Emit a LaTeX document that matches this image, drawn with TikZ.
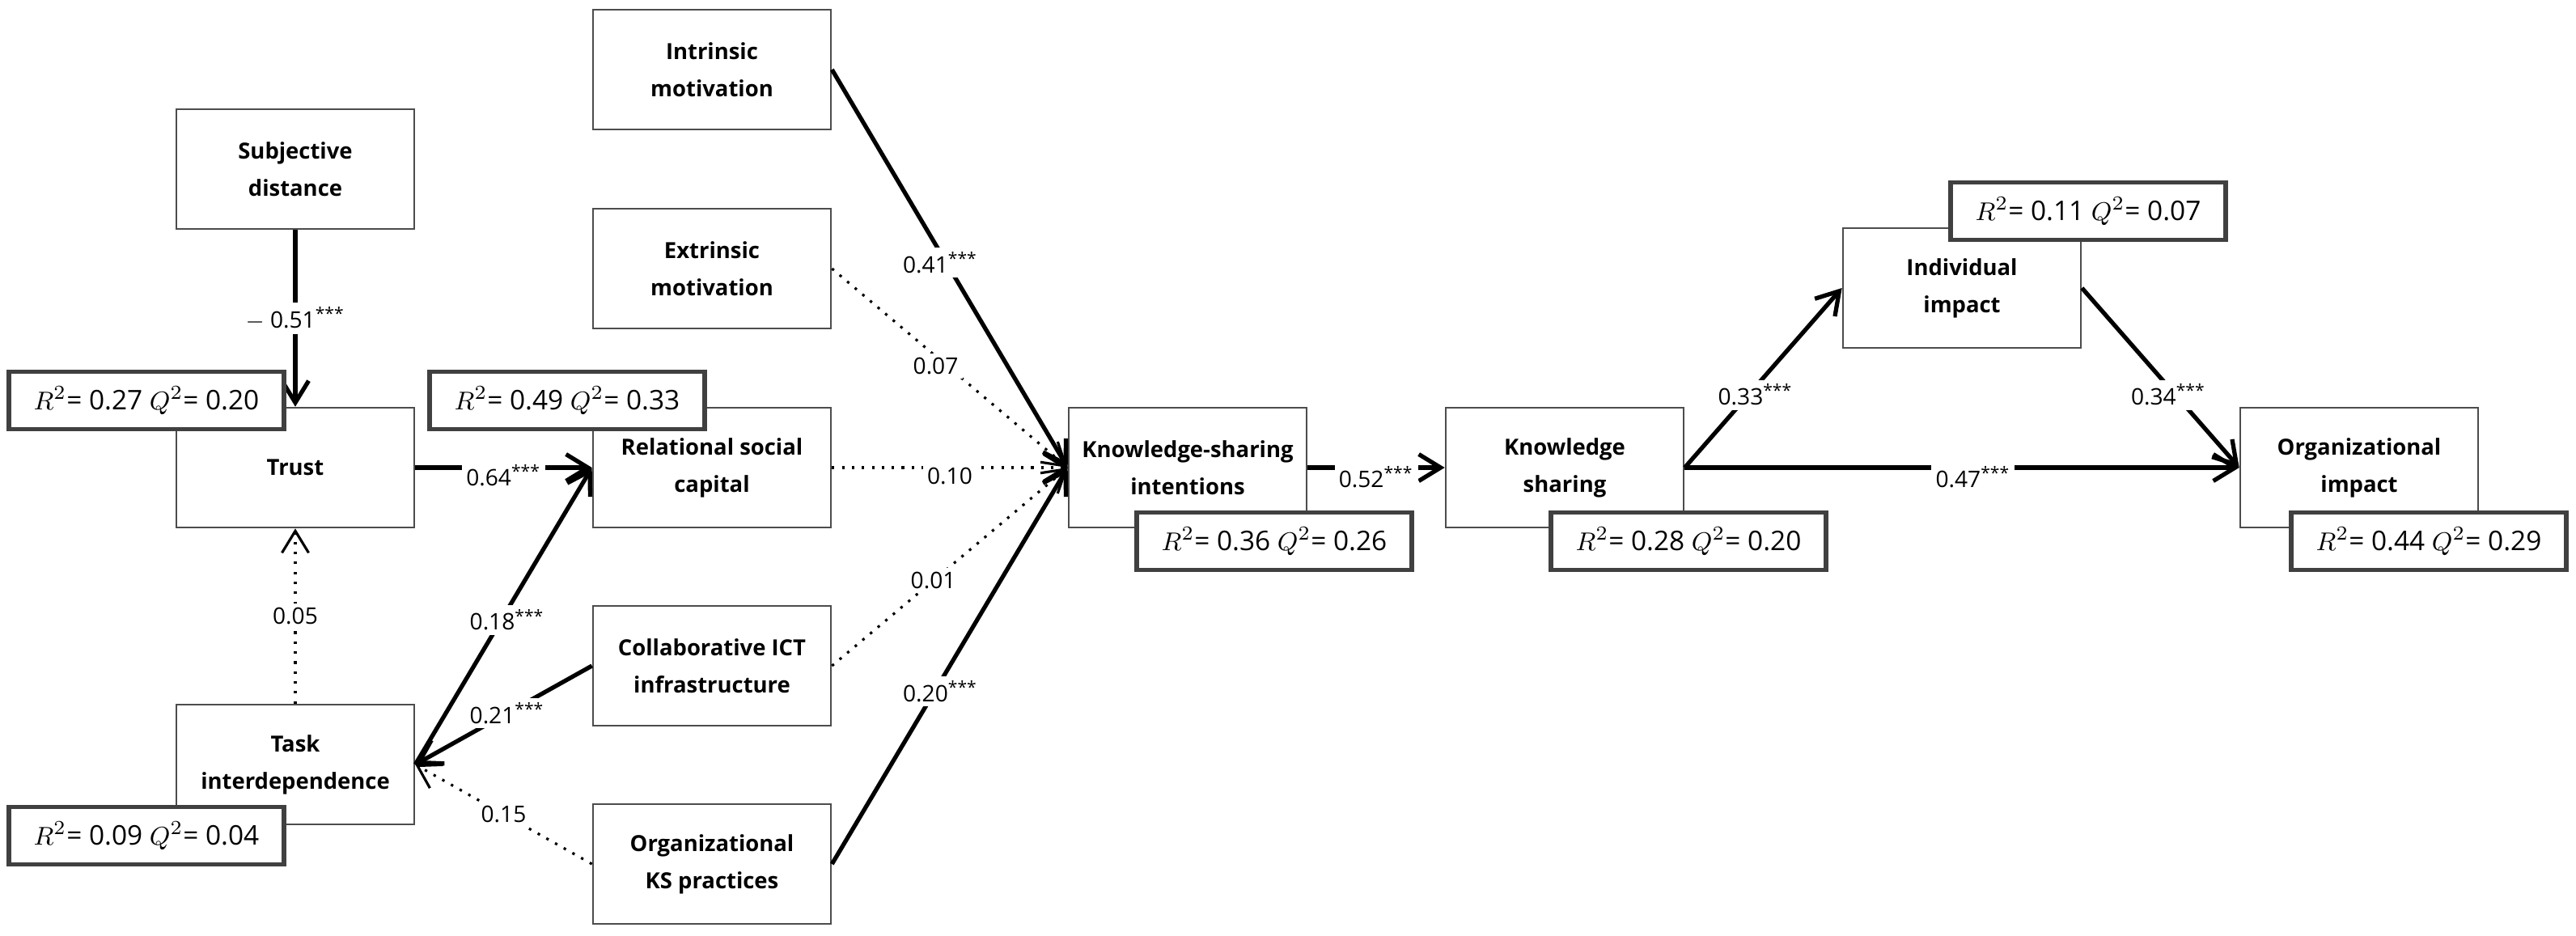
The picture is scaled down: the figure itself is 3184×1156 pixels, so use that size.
\documentclass[tikz,border=0pt]{standalone}
\usepackage{fontspec}
\setmainfont{Open Sans}
\usetikzlibrary{arrows.meta}
\tikzset{>={Straight Barb[length=2.7mm,width=3.3mm]}}
\tikzset{
  box/.style={draw=black!70, line width=0.7pt, fill=white, minimum width=2.94cm,
    minimum height=1.48cm, align=center, font=\bfseries\fontsize{7.8}{13}\selectfont},
  fitstat/.style={draw=black!75, line width=1.6pt, fill=white, minimum width=3.4cm,
    minimum height=0.71cm, inner sep=0pt, font=\fontsize{9.5}{11}\selectfont},
  sig/.style={->, line width=1.5pt},
  nonsig/.style={->, line width=0.9pt, dash pattern=on 0.9pt off 2.6pt},
  coef/.style={fill=white, inner sep=1.5pt, font=\fontsize{8}{9}\selectfont}
}
\newcommand{\stars}{\textsuperscript{***}}
\newcommand{\rqtext}[2]{$R^2$= #1 $Q^2$= #2}

\begin{document}
\begin{tikzpicture}[x=0.01cm, y=-0.01cm]
        \useasboundingbox (0,0) rectangle (3184,1156);
        % constructs
        \node[box] (sd) at (365,209) {Subjective\\distance};
        \node[box] (trust) at (365,578) {Trust};
        \node[box] (task) at (365,945) {Task\\interdependence};
        \node[box] (intr) at (880,86) {Intrinsic\\motivation};
        \node[box] (extr) at (880,332) {Extrinsic\\motivation};
        \node[box] (rsc) at (880,578) {Relational social\\capital};
        \node[box] (ict) at (880,823) {Collaborative ICT\\infrastructure};
        \node[box] (oks) at (880,1068) {Organizational\\KS practices};
        \node[box] (ksi) at (1468,578) {Knowledge-sharing\\intentions};
        \node[box] (ks) at (1934,578) {Knowledge\\sharing};
        \node[box] (ind) at (2425,356) {Individual\\impact};
        \node[box] (org) at (2916,578) {Organizational\\impact};
        % paths
        \draw[sig] (sd) -- node[coef] {$-$ 0.51\stars} (trust);
        \draw[sig] (trust) -- node[coef, yshift=-0.1cm] {0.64\stars} (rsc);
        \draw[nonsig] (task) -- node[coef] {0.05} (trust);
        \draw[sig] (task.east) -- node[coef, pos=0.52, yshift=-0.12cm] {0.18\stars} (rsc.west);
        \draw[sig] (ict.west) -- node[coef, pos=0.48] {0.21\stars} (task.east);
        \draw[nonsig] (oks.west) -- node[coef] {0.15} (task.east);
        \draw[sig] (intr.east) -- node[coef, pos=0.46, yshift=-0.12cm] {0.41\stars} (ksi.west);
        \draw[nonsig] (extr.east) -- node[coef, pos=0.44, yshift=-0.12cm] {0.07} (ksi.west);
        \draw[nonsig] (rsc.east) -- node[coef, yshift=-0.1cm] {0.10} (ksi.west);
        \draw[nonsig] (ict.east) -- node[coef, pos=0.43] {0.01} (ksi.west);
        \draw[sig] (oks.east) -- node[coef, pos=0.46, yshift=-0.12cm] {0.20\stars} (ksi.west);
        \draw[sig] (ksi) -- node[coef, yshift=-0.12cm] {0.52\stars} (ks);
        \draw[sig] (ks.east) -- node[coef, pos=0.45, yshift=-0.1cm] {0.33\stars} (ind.west);
        \draw[sig] (ind.east) -- node[coef, pos=0.55, yshift=-0.1cm] {0.34\stars} (org.west);
        \draw[sig] (ks) -- node[coef, pos=0.52, yshift=-0.12cm] {0.47\stars} (org);
        % R2 and Q2
        \node[fitstat] (trustfit) at (181,495) {\rqtext{0.27}{0.20}};
        \node[fitstat] (taskfit) at (181,1033) {\rqtext{0.09}{0.04}};
        \node[fitstat] (rscfit) at (701,495) {\rqtext{0.49}{0.33}};
        \node[fitstat] (ksifit) at (1575,669) {\rqtext{0.36}{0.26}};
        \node[fitstat] (ksfit) at (2087,669) {\rqtext{0.28}{0.20}};
        \node[fitstat] (indfit) at (2581,261) {\rqtext{0.11}{0.07}};
        \node[fitstat] (orgfit) at (3002,669) {\rqtext{0.44}{0.29}};
      \end{tikzpicture}
\end{document}
